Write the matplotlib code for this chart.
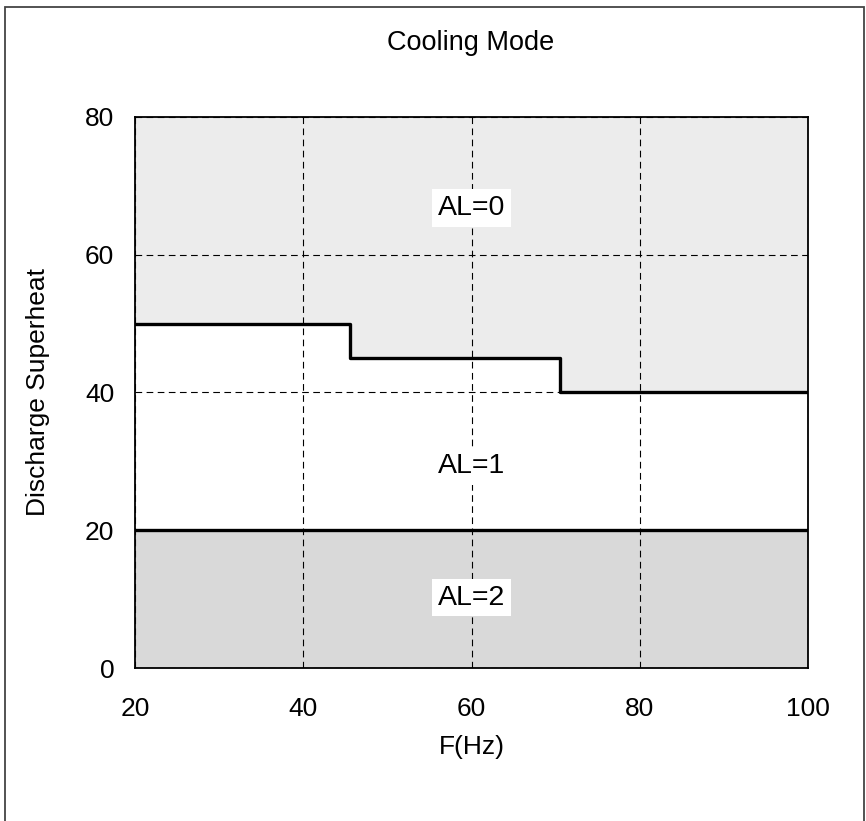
import matplotlib
matplotlib.use("Agg")
import matplotlib.pyplot as plt
from matplotlib.patches import Rectangle

plt.rcParams["font.family"] = ["Liberation Sans", "DejaVu Sans"]

# limit curve between AL=0 and AL=1 (step edges)
step_x = [20, 45.5, 70.5, 100]
step_y = [50, 45, 40, 40]
low_limit = 20
freq_range = [20, 100]
sh_range = [0, 80]
x_ticks = [20, 40, 60, 80, 100]
y_ticks = [0, 20, 40, 60, 80]
zone_labels = ["AL=0", "AL=1", "AL=2"]
zone_label_pos = [(60, 66.8), (60, 29.3), (60, 10.2)]

fig = plt.figure(figsize=(8.66, 8.21), dpi=100)
ax = fig.add_axes([135 / 866, 1 - 668 / 821, 673 / 866, 551 / 821])

# shaded zones
ax.fill_between(step_x, step_y, sh_range[1], step="post", color="#ececec", lw=0, zorder=0)
ax.fill_between(freq_range, sh_range[0], low_limit, color="#d9d9d9", lw=0, zorder=0)

ax.step(step_x, step_y, where="post", color="black", lw=2.4, zorder=3)
ax.plot(freq_range, [low_limit, low_limit], color="black", lw=2.4, zorder=3)

ax.set_xlim(freq_range)
ax.set_ylim(sh_range)
ax.set_xticks(x_ticks)
ax.set_yticks(y_ticks)
ax.tick_params(length=0, labelsize=19)
ax.tick_params(axis="x", pad=21)
ax.tick_params(axis="y", pad=15)
ax.grid(True, color="black", linestyle=(0, (6, 4)), lw=0.8, zorder=1)
ax.set_axisbelow(False)
for s in ax.spines.values():
    s.set_linewidth(1.3)

for lbl, (x, y) in zip(zone_labels, zone_label_pos):
    ax.text(x, y, lbl, ha="center", va="center", fontsize=20.5, zorder=4,
            bbox=dict(facecolor="white", edgecolor="none", pad=4))

ax.set_xlabel("F(Hz)", fontsize=19, labelpad=10)
ax.set_ylabel("Discharge Superheat", fontsize=19, labelpad=25)
fig.text(471 / 866, 1 - 43 / 821, "Cooling Mode", ha="center", va="center", fontsize=19.5)

# outer frame around the figure
fig.patches.append(Rectangle((5 / 866, -0.02), 859 / 866, 1 - 7 / 821 + 0.02,
                             transform=fig.transFigure, fill=False,
                             edgecolor="#444444", lw=1.3))

fig.savefig("out.png", dpi=100)
